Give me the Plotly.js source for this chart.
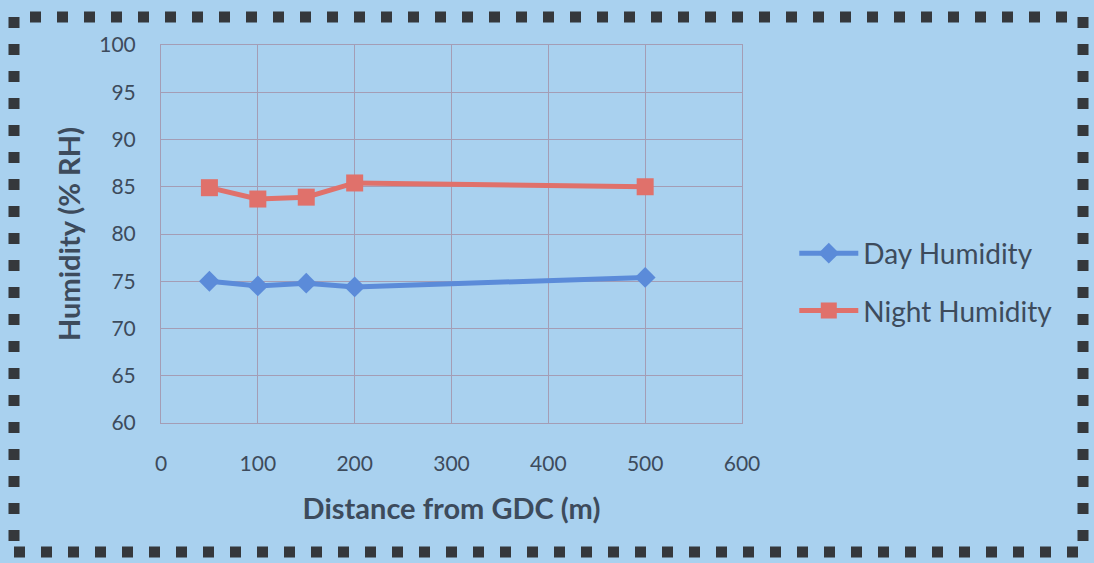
<!DOCTYPE html>
<html><head><meta charset="utf-8">
<script src="https://cdn.plot.ly/plotly-3.0.1.min.js"></script>
<style>html,body{margin:0;padding:0;background:#fff;}#chart{width:1094px;height:563px;}</style>
</head><body><div id="chart"></div>
<script>
const distance = [50, 100, 150, 200, 500];
const dayHumidity = [75.0, 74.5, 74.8, 74.4, 75.4];
const nightHumidity = [84.9, 83.7, 83.9, 85.4, 85.0];
const xTicks = [0, 100, 200, 300, 400, 500, 600];
const yTicks = [60, 65, 70, 75, 80, 85, 90, 95, 100];

const textColor = '#3d4b5c';
const gridColor = '#a49db5';
const font = 'Lato, "Open Sans", sans-serif';

const traces = [
  {x: distance, y: dayHumidity, name: 'Day Humidity', legendgroup: 'day', type: 'scatter', mode: 'lines+markers',
   line: {color: '#5b8bd9', width: 5}, marker: {symbol: 'diamond', size: 16, color: '#5b8bd9'}},
  {x: distance, y: nightHumidity, name: 'Night Humidity', legendgroup: 'night', type: 'scatter', mode: 'lines+markers',
   line: {color: '#e0716b', width: 5}, marker: {symbol: 'square', size: 17, color: '#e0716b'}}
];

const layout = {
  width: 1094, height: 563,
  margin: {l: 161, r: 352, t: 45, b: 140},
  paper_bgcolor: '#a9d1ef',
  plot_bgcolor: '#a9d1ef',
  font: {family: font, color: textColor, size: 21},
  showlegend: true,
  legend: {x: 1.09, y: 0.373, xanchor: 'left', yanchor: 'middle', bgcolor: 'rgba(0,0,0,0)',
           font: {size: 28, color: textColor}, tracegroupgap: 18, itemwidth: 59},
  xaxis: {range: [0, 600], tickvals: xTicks, ticktext: xTicks.map(String), showgrid: true, gridcolor: gridColor,
          gridwidth: 1, zeroline: false, showline: true, linecolor: gridColor, mirror: true, ticks: '',
          ticklabelstandoff: 22, tickfont: {size: 21, color: textColor}, fixedrange: true,
          title: {text: '<b>Distance from GDC (m)</b>', font: {size: 29, color: textColor}, standoff: 24}},
  yaxis: {range: [60, 100], tickvals: yTicks, ticktext: yTicks.map(String), showgrid: true, gridcolor: gridColor,
          gridwidth: 1, zeroline: false, showline: true, linecolor: gridColor, mirror: true, ticks: '',
          ticklabelstandoff: 20, tickfont: {size: 21, color: textColor}, fixedrange: true,
          title: {text: '<b>Humidity (% RH)</b>', font: {size: 29, color: textColor}, standoff: 10}},
  shapes: [{type: 'rect', xref: 'paper', yref: 'paper',
            x0: (14 - 161) / 581, x1: (1083 - 161) / 581,
            y0: (423 - 552) / 378, y1: (423 - 17) / 378,
            line: {color: '#35383c', width: 11, dash: '11px,16px'}, fillcolor: 'rgba(0,0,0,0)', layer: 'below'}]
};

Plotly.newPlot('chart', traces, layout, {displayModeBar: false, staticPlot: true});
</script></body></html>
